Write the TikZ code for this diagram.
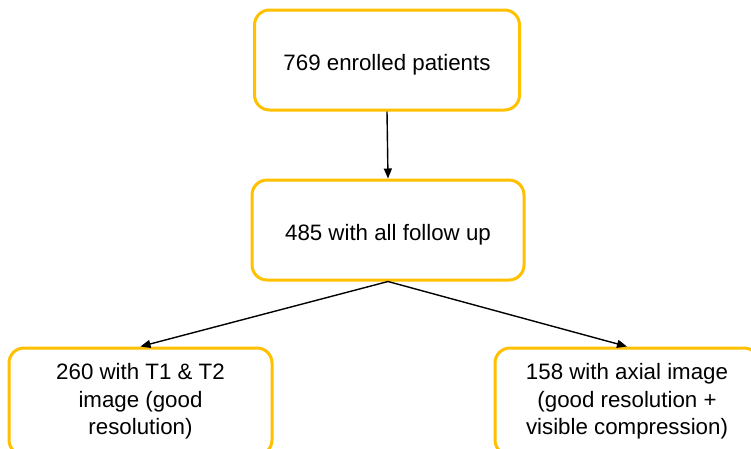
\documentclass[tikz,border=0pt]{standalone}
\usepackage{fontspec}
\setmainfont{Liberation Sans}
\usetikzlibrary{arrows.meta}
\definecolor{boxgold}{HTML}{FFC000}
\begin{document}
\begin{tikzpicture}[x=1pt,y=-1pt,
  flowbox/.style={draw=boxgold, line width=3pt, rounded corners=15pt, fill=white,
    align=center, inner sep=0pt, font=\fontsize{22.3}{27.5}\selectfont},
  oneline/.style={text height=25pt, text depth=3.7pt},
  link/.style={draw=black, line width=1.4pt, -{Triangle[length=10pt,width=8pt]}}]
  \useasboundingbox (0,0) rectangle (751,448);
  \node[flowbox, oneline, minimum width=265pt, minimum height=100pt] (enrolled) at (387,60) {769 enrolled patients};
  \node[flowbox, oneline, minimum width=272pt, minimum height=100pt] (followup) at (388,230) {485 with all follow up};
  \node[flowbox, minimum width=263pt, minimum height=107pt] (tone) at (140.5,401.5)
    {260 with T1 \& T2\\image (good\\resolution)};
  \node[flowbox, minimum width=264pt, minimum height=107pt] (axial) at (627,401.5)
    {158 with axial image\\(good resolution +\\visible compression)};
  \draw[link] (enrolled.south) -- (followup.north);
  \draw[link] (followup.south) -- (tone.north);
  \draw[link] (followup.south) -- (axial.north);
\end{tikzpicture}
\end{document}
